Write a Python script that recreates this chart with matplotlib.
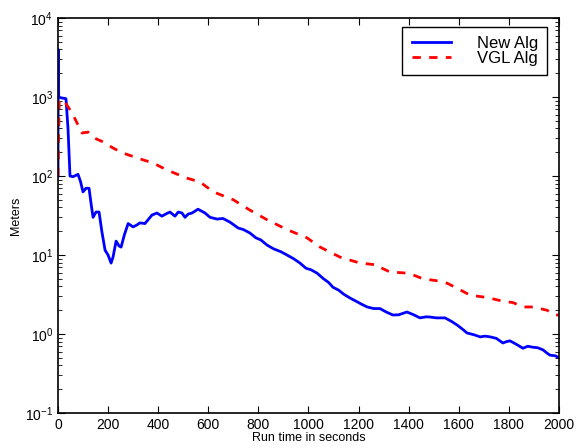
import matplotlib
matplotlib.use("Agg")
import matplotlib.pyplot as plt
from matplotlib.ticker import LogLocator, NullFormatter

plt.rcParams['font.family'] = ['Liberation Sans', 'DejaVu Sans']
plt.rcParams['mathtext.fontset'] = 'custom'
plt.rcParams['mathtext.rm'] = 'Liberation Sans'

# Convergence traces (seconds, meters)
new_t = [0, 1, 3, 10, 32, 40, 48, 60, 80, 90, 100, 112, 124, 132, 140, 152,
         164, 175, 188, 200, 212, 220, 232, 244, 252, 265, 280, 300, 315, 327,
         347, 360, 375, 395, 415, 430, 447, 467, 480, 495, 507, 520, 535, 559,
         587, 607, 635, 659, 687, 719, 740, 766, 790, 810, 834, 860, 890, 914,
         940, 966, 990, 1010, 1034, 1060, 1080, 1098, 1120, 1140, 1166, 1190,
         1210, 1234, 1260, 1285, 1310, 1337, 1360, 1393, 1420, 1445, 1470,
         1485, 1510, 1545, 1570, 1593, 1615, 1633, 1660, 1685, 1705, 1725,
         1750, 1776, 1790, 1804, 1830, 1856, 1875, 1896, 1915, 1936, 1950,
         1964, 1985, 2000]
new_m = [100, 4000, 1000, 980, 950, 400, 100, 98, 105, 85, 63, 70, 70, 45, 30,
         35, 35, 20, 11.5, 10, 7.9, 9.5, 15, 13, 12.6, 18, 25, 22.7, 24, 25.5,
         25, 28, 32, 34, 31, 33, 35, 31, 35, 34, 30, 33, 34, 38, 34, 30, 28.5,
         29, 26, 22, 21, 19, 16.5, 15.5, 13.4, 12, 11, 10, 9, 7.9, 6.8, 6.5,
         5.9, 5, 4.5, 3.9, 3.6, 3.2, 2.85, 2.6, 2.4, 2.2, 2.1, 2.1, 1.9, 1.74,
         1.75, 1.9, 1.75, 1.6, 1.65, 1.64, 1.6, 1.6, 1.45, 1.3, 1.15, 1.03,
         0.98, 0.92, 0.94, 0.92, 0.88, 0.77, 0.8, 0.82, 0.74, 0.66, 0.7, 0.68,
         0.67, 0.63, 0.58, 0.54, 0.53, 0.5]

vgl_t = [0, 5, 28, 56, 76, 96, 120, 148, 180, 220, 260, 315, 340, 380, 435,
         515, 567, 620, 700, 766, 834, 914, 994, 1046, 1126, 1206, 1273, 1285,
         1325, 1393, 1417, 1457, 1517, 1553, 1593, 1645, 1713, 1776, 1816,
         1856, 1896, 1952, 1984, 2000]
vgl_m = [100, 920, 860, 630, 470, 350, 360, 300, 270, 226, 195, 170, 160,
         146, 119, 94, 84, 63, 50, 37, 28, 21, 16.5, 12.6, 9.4, 7.9, 7.5, 7.0,
         6.1, 5.9, 5.6, 5.0, 4.7, 4.4, 3.8, 3.1, 2.9, 2.6, 2.5, 2.2, 2.2, 2.0,
         1.74, 1.74]

fig = plt.figure(figsize=(5.85, 4.48), dpi=100)
ax = fig.add_axes([0.0991, 0.0781, 0.8565, 0.8817])

ax.semilogy(new_t, new_m, color='#0000ff', lw=2, label='New Alg')
ax.semilogy(vgl_t, vgl_m, color='#ff0000', lw=2, ls=(0, (3, 3)), label='VGL Alg')

ax.set_xlim(0, 2000)
ax.set_ylim(1e-1, 1e4)
ax.set_xticks(range(0, 2001, 200))
ax.yaxis.set_major_locator(LogLocator(base=10, numticks=10))
ax.yaxis.set_minor_locator(LogLocator(base=10, subs=range(2, 10), numticks=10))
ax.yaxis.set_minor_formatter(NullFormatter())

ax.tick_params(which='both', direction='in', top=True, right=True, labelsize=10)
ax.tick_params(which='major', length=5)
ax.tick_params(which='minor', length=3)
for s in ax.spines.values():
    s.set_linewidth(1.2)

ax.set_xlabel('Run time in seconds', fontsize=9, labelpad=0)
ax.set_ylabel('Meters', fontsize=9, labelpad=2)

leg = ax.legend(loc='upper right', fontsize=12, fancybox=False, framealpha=1,
                edgecolor='black', handlelength=2.35, handletextpad=1.55,
                borderpad=0.55, labelspacing=0.0, borderaxespad=0,
                bbox_to_anchor=(0.976, 0.977))
leg.get_frame().set_linewidth(1.0)

fig.savefig('out.png', dpi=100)
